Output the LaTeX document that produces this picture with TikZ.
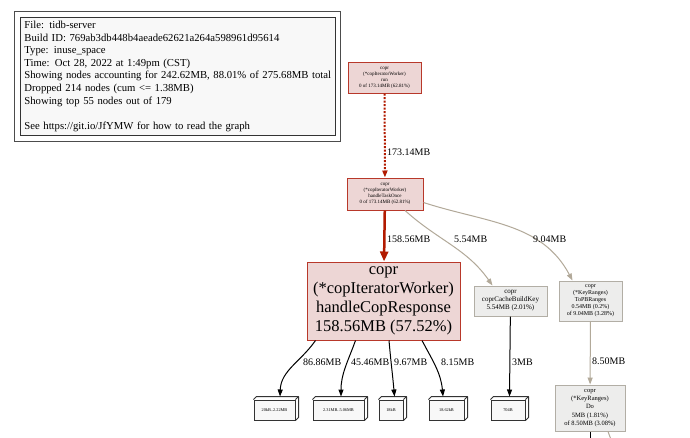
\documentclass[tikz,border=0pt]{standalone}
\usepackage{fontspec}
\setmainfont{Liberation Serif}
\usetikzlibrary{arrows.meta}
\definecolor{hotfill}{HTML}{EDD6D5}
\definecolor{hotline}{HTML}{B8382A}
\definecolor{redline}{HTML}{B21A00}
\definecolor{coldfill}{HTML}{EDEDEC}
\definecolor{coldline}{HTML}{B2AEA5}
\definecolor{tanline}{HTML}{B2A999}
\definecolor{cubefill}{HTML}{F8F8F8}
\definecolor{legendfill}{HTML}{F8F8F8}
\begin{document}
\begin{tikzpicture}[x=1pt, y=1pt,
  hot/.style={draw=hotline, fill=hotfill, line width=1pt, inner sep=0pt, align=center},
  cold/.style={draw=coldline, fill=coldfill, line width=1pt, inner sep=0pt, align=center},
  cube/.style={draw=black!80, fill=cubefill, line width=1pt, inner sep=0pt, minimum height=20pt, font=\fontsize{4.3}{5}\selectfont},
  lbl/.style={font=\fontsize{10}{12}\selectfont, anchor=west, inner sep=0pt},
  tip/.style={-{Triangle[length=7pt, width=5pt]}},
  bigtip/.style={-{Triangle[length=10pt, width=8pt]}}
]
\useasboundingbox[fill=white] (0,0) rectangle (690,-437);

% legend
\node[draw=black!80, fill=legendfill, line width=0.8pt, anchor=north west, inner xsep=4pt, inner ysep=0pt,
  text width=307pt, minimum height=118pt, align=left, font=\fontsize{10.7}{12.6}\selectfont] (legend) at (20,-17)
  {File: tidb-server\\
   Build ID: 769ab3db448b4aeade62621a264a598961d95614\\
   Type: inuse\_space\\
   Time: Oct 28, 2022 at 1:49pm (CST)\\
   Showing nodes accounting for 242.62MB, 88.01\% of 275.68MB total\\
   Dropped 214 nodes (cum <= 1.38MB)\\
   Showing top 55 nodes out of 179\\[12.6pt]
   See https://git.io/JfYMW for how to read the graph};
\draw[black!70, line width=1pt] ([shift={(-6,6)}]legend.north west) rectangle ([shift={(5,-6)}]legend.south east);

% call graph nodes
\node[hot, minimum width=73pt, minimum height=31pt, font=\fontsize{5}{6}\selectfont] (run) at (384.5,-77.5)
  {copr\\(*copIteratorWorker)\\run\\0 of 173.14MB (62.81\%)};
\node[hot, minimum width=76pt, minimum height=32pt, font=\fontsize{5}{6}\selectfont] (task) at (385,-194)
  {copr\\(*copIteratorWorker)\\handleTaskOnce\\0 of 173.14MB (62.81\%)};
\node[hot, minimum width=153pt, minimum height=78pt, font=\fontsize{16.5}{19}\selectfont] (resp) at (383.5,-301)
  {copr\\(*copIteratorWorker)\\handleCopResponse\\158.56MB (57.52\%)};
\node[cold, minimum width=73pt, minimum height=30pt, font=\fontsize{7}{8}\selectfont] (cbk) at (510.5,-301)
  {copr\\coprCacheBuildKey\\5.54MB (2.01\%)};
\node[cold, minimum width=63pt, minimum height=40pt, font=\fontsize{6}{7}\selectfont] (topb) at (590.5,-301)
  {copr\\(*KeyRanges)\\ToPBRanges\\0.54MB (0.2\%)\\of 9.04MB (3.28\%)};
\node[cold, minimum width=70pt, minimum height=46pt, font=\fontsize{6.5}{8.3}\selectfont] (do) at (590,-408)
  {copr\\(*KeyRanges)\\Do\\5MB (1.81\%)\\of 8.50MB (3.08\%)};

% size buckets
\node[cube, minimum width=41pt] (b1) at (274.5,-410) {20kB..2.22MB};
\node[cube, minimum width=51pt] (b2) at (338.5,-410) {2.31MB..5.06MB};
\node[cube, minimum width=24pt] (b3) at (391,-410) {18kB};
\node[cube, minimum width=35pt] (b4) at (446.5,-410) {18.62kB};
\node[cube, minimum width=34pt] (b5) at (508,-410) {704B};
\foreach \n in {b1,b2,b3,b4,b5} {
  \draw[black!80, line width=1pt, line join=round] (\n.north west) -- ++(3,3) -| ([shift={(3,3)}]\n.south east) -- (\n.south east);
  \draw[black!80, line width=1pt] (\n.north east) -- ++(3,3);
}

% edges
\draw[redline, line width=2pt, dash pattern=on 2pt off 1.5pt, tip] (run) -- (task);
\node[lbl] (l1) at (387,-152) {173.14MB};
\draw[redline, line width=2.5pt, bigtip] (task) -- (resp);
\node[lbl] (l2) at (387,-239) {158.56MB};
\draw[tanline, line width=1pt, tip] ([xshift=20pt]task.south) to[out=-42, in=125] ([xshift=-18pt]cbk.north);
\node[lbl] (l3) at (454,-239) {5.54MB};
\draw[tanline, line width=1pt, tip] ([yshift=8pt]task.south east) to[out=-18, in=118] ([xshift=-18pt]topb.north);
\node[lbl] (l4) at (533,-239) {9.04MB};
\draw[tanline, line width=1pt, tip] (topb) -- (do);
\node[lbl] (l5) at (592,-361) {8.50MB};
\draw[black, line width=1pt, tip] (cbk) -- ([shift={(1.5,3)}]b5.north);
\node[lbl] (l6) at (512,-362) {3MB};

\draw[black, line width=1pt, tip] ([xshift=-68pt]resp.south) to[out=235, in=88] ([shift={(5.5,3)}]b1.north);
\node[lbl] (l7) at (303,-362) {86.86MB};
\draw[black, line width=1pt, tip] ([xshift=-28pt]resp.south) to[out=250, in=90] ([shift={(2.5,3)}]b2.north);
\node[lbl] (l8) at (351,-362) {45.46MB};
\draw[black, line width=1pt, tip] ([xshift=5.5pt]resp.south) to[out=-85, in=95] ([shift={(3.5,3)}]b3.north);
\node[lbl] (l9) at (394,-362) {9.67MB};
\draw[black, line width=1pt, tip] ([xshift=38.5pt]resp.south) to[out=-62, in=95] ([shift={(-3.5,3)}]b4.north);
\node[lbl] (l10) at (441,-362) {8.15MB};

% edges leaving the view
\coordinate (out1) at (590,-445);
\coordinate (out2) at (613,-445);
\draw[black, line width=1pt] (do) -- (out1);
\draw[tanline, line width=1pt] ([xshift=18pt]do.south) -- (out2);
\end{tikzpicture}
\end{document}
